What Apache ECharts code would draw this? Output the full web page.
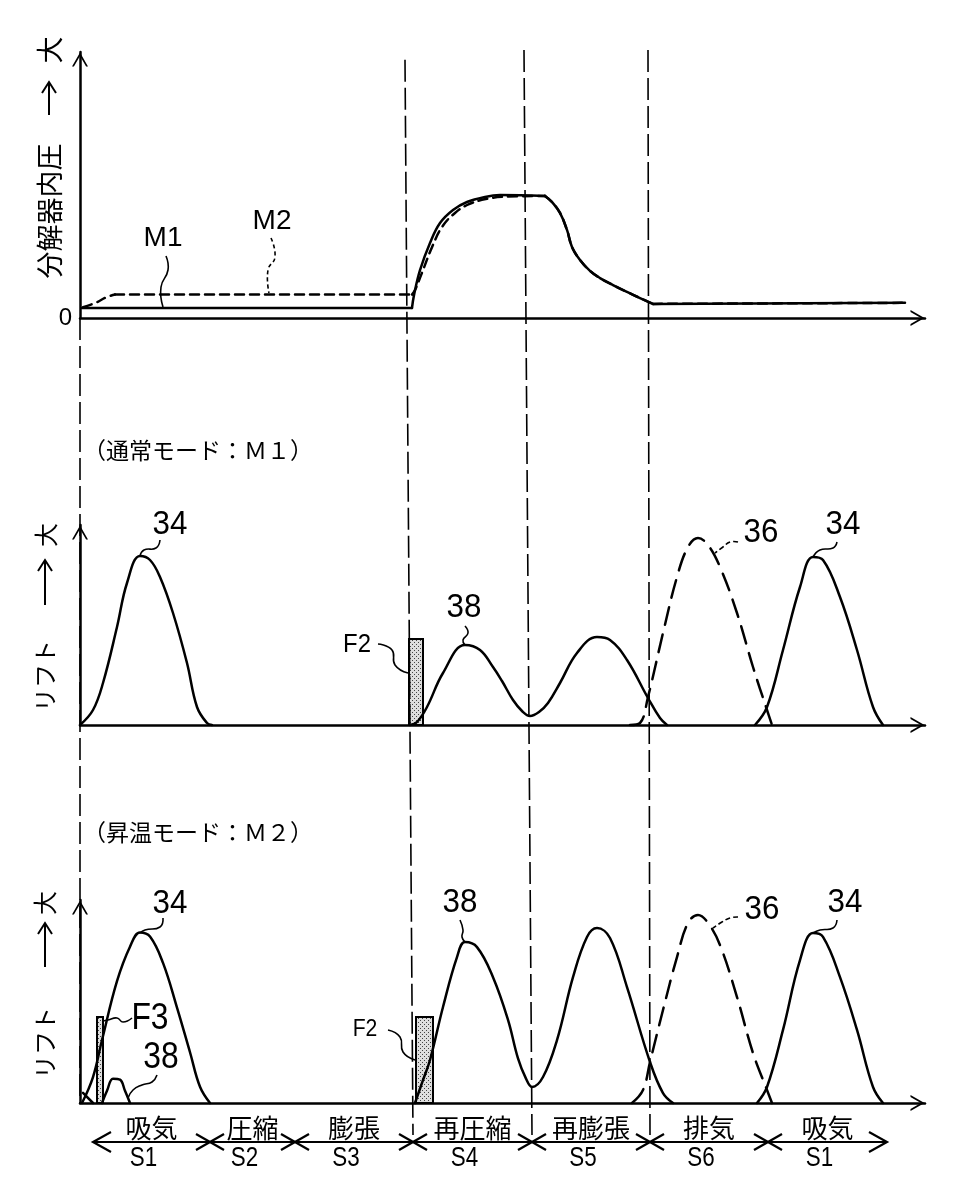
<!DOCTYPE html>
<html><head><meta charset="utf-8">
<script src="https://cdn.jsdelivr.net/npm/echarts@6/dist/echarts.min.js"></script>
<style>html,body{margin:0;padding:0;background:#fff}#c{width:970px;height:1200px}</style>
</head><body><div id="c"></div>
<script>
// ---------- data (x: stroke position units, y: % of axis height) ----------
const m1Pos = [2, 332, 334, 340, 350, 360, 373, 387, 405, 420, 465, 472, 480, 487, 492, 500, 510, 520, 533, 547, 560, 573, 825];
const m1Val = [3.8, 3.8, 8.6, 18.0, 28.2, 35.7, 40.6, 43.6, 45.5, 46.2, 45.9, 43.6, 39.5, 33.1, 26.7, 21.8, 17.7, 15.0, 12.4, 9.8, 7.5, 5.3, 5.7];
const m2Pos = [3, 15, 27, 35, 332, 335, 342, 352, 362, 375, 389, 407, 425, 465, 472, 480, 487, 492, 500, 510, 520, 533, 547, 560, 573, 825];
const m2Val = [4.1, 5.6, 7.9, 8.8, 8.8, 10.5, 17.0, 26.6, 34.2, 39.5, 42.8, 44.8, 45.6, 45.9, 43.6, 39.5, 33.1, 26.7, 21.8, 17.7, 15.0, 12.4, 9.8, 7.5, 5.3, 5.7];

const mid34aPos = [0, 13, 23, 37, 47, 60, 70, 80, 93, 107, 117, 127, 132];
const mid34aVal = [0, 7.5, 21, 49, 71, 84.5, 82.5, 74, 56, 31, 9, 1, 0];
const mid38Pos = [330, 337, 347, 363, 385, 400, 413, 422, 433, 442, 450, 459, 468, 480, 497, 517, 530, 547, 568, 580, 587];
const mid38Val = [0, 1.5, 9, 26, 40, 37.5, 29, 22, 12.5, 7, 4.5, 6.5, 11, 21, 36, 44, 42.5, 32.5, 13.5, 3.5, 0];
const mid36Pos = [550, 560, 568, 583, 597, 608, 618, 628, 640, 657, 673, 687, 692];
const mid36Val = [0, 1, 14, 46, 74, 89, 93.5, 90, 79, 56, 29, 7.5, 0];
const mid34bPos = [675, 687, 703, 720, 733, 743, 760, 777, 793, 803];
const mid34bVal = [0, 9, 37.5, 69, 84, 82.5, 64, 37.5, 9, 0];

const bot34aPos = [2, 13, 22, 37, 50, 60, 70, 83, 97, 110, 120, 130];
const bot34aVal = [0, 12.8, 31, 60, 77, 84, 82, 69, 47, 25, 8, 0];
const bot38sPos = [22, 27, 33, 40, 45, 50];
const bot38sVal = [0, 6, 12, 11.5, 6, 0];
const bot36tPos = [3, 13];
const bot36tVal = [5, 0];
const bot38Pos = [335, 343, 350, 363, 377, 385, 397, 413, 428, 438, 446, 452, 463, 477, 493, 507, 517, 530, 547, 570, 583, 593];
const bot38Val = [0, 11.3, 21.2, 47.3, 71.9, 79.3, 76.8, 62, 41, 22, 12, 7.9, 12.8, 31, 62, 81.8, 86.2, 81.3, 57.1, 20.2, 4.9, 0];
const bot36Pos = [552, 563, 570, 583, 597, 608, 618, 628, 640, 657, 673, 687, 692];
const bot36Val = [0, 6.4, 20.2, 45.8, 71.9, 88.7, 92.6, 88.7, 77.8, 52.2, 24.6, 6.4, 0];
const bot34bPos = [677, 687, 703, 720, 733, 743, 760, 777, 793, 803];
const bot34bVal = [0, 7.9, 36, 70.4, 83.7, 81.8, 62, 36, 7.9, 0];

// fuel injection bars: [start, end, height]
const midFuelStart = [329], midFuelEnd = [343], midFuelHeight = [43];
const botFuelStart = [17, 336], botFuelEnd = [23, 353], botFuelHeight = [42.4, 42.4];

// strokes
const strokeNames = ['吸気', '圧縮', '膨張', '再圧縮', '再膨張', '排気', '吸気'];
const strokeCodes = ['S1', 'S2', 'S3', 'S4', 'S5', 'S6', 'S1'];
const strokeEdges = [13, 130, 215, 333, 452, 570, 688, 807];
const boundaryTopPos = [0, 325, 444, 568];
const boundaryBottomPos = [0, 333, 452, 570];

// ---------- styling helpers ----------
const CJK = '"Noto Sans CJK JP", sans-serif';
const LATIN = '"Liberation Sans", Arial, sans-serif';
const CHEVRON = 'path://M0,14 L8,0 L16,14 L14.1,14 L8,3.6 L1.9,14 Z';

const pc = document.createElement('canvas');
pc.width = 4; pc.height = 4;
const pctx = pc.getContext('2d');
pctx.fillStyle = '#dedede'; pctx.fillRect(0, 0, 4, 4);
pctx.fillStyle = '#444'; pctx.fillRect(0, 0, 1, 1); pctx.fillRect(2, 2, 1, 1);
const stipple = { image: pc, repeat: 'repeat' };

function pairs(xs, ys) { return xs.map((x, i) => [x, ys[i]]); }
function curveSeries(xs, ys, gi, dash, corners) {
  const cuts = [0].concat(corners || [], [xs.length - 1]);
  const out = [];
  for (let k = 0; k < cuts.length - 1; k++) {
    const a = cuts[k], b = cuts[k + 1];
    if (b <= a) continue;
    out.push({
      type: 'line', xAxisIndex: gi, yAxisIndex: gi, clip: false,
      data: pairs(xs.slice(a, b + 1), ys.slice(a, b + 1)),
      smooth: (b - a) > 1 ? 0.4 : false, symbol: 'none', silent: true, z: 3,
      lineStyle: { color: '#000', width: 2.5, type: dash || 'solid', cap: 'round', join: 'round' }
    });
  }
  return out;
}
function barSeries(starts, ends, heights, gi) {
  return {
    type: 'custom', xAxisIndex: gi, yAxisIndex: gi, z: 1, silent: true,
    data: starts.map((s, i) => [s, ends[i], heights[i]]),
    renderItem: (params, api) => {
      const p0 = api.coord([api.value(0), api.value(2)]);
      const p1 = api.coord([api.value(1), 0]);
      return { type: 'rect', shape: { x: p0[0], y: p0[1], width: p1[0] - p0[0], height: p1[1] - p0[1] },
        style: { fill: stipple, stroke: '#000', lineWidth: 2 } };
    }
  };
}

function xAx(gi, show) {
  return { gridIndex: gi, type: 'value', min: 0, max: 845,
    axisLine: { show: show, symbol: ['none', CHEVRON], symbolSize: [16, 15], symbolOffset: [0, -7.5], lineStyle: { color: '#000', width: 2.5 } },
    axisTick: { show: false }, axisLabel: { show: false }, splitLine: { show: false } };
}
function yAx(gi, show, max) {
  return { gridIndex: gi, type: 'value', min: 0, max: max,
    axisLine: { show: show, onZero: false, symbol: ['none', CHEVRON], symbolSize: [16, 15], symbolOffset: [0, -7.5], lineStyle: { color: '#000', width: 2.5 } },
    axisTick: { show: false }, axisLabel: { show: false }, splitLine: { show: false } };
}

// ---------- annotations ----------
function txt(t, x, y, size, family, rot, sx) {
  return { type: 'text', x: x, y: y, rotation: rot || 0, scaleX: sx || 1, z: 20,
    style: { text: t, fontSize: size, fontFamily: family, fill: '#000',
      align: 'center', verticalAlign: 'middle', textAlign: 'center', textVerticalAlign: 'middle' } };
}
function txtL(t, x, y, size, family) {
  return { type: 'text', x: x, y: y, z: 20,
    style: { text: t, fontSize: size, fontFamily: family, fill: '#000',
      align: 'left', verticalAlign: 'middle', textAlign: 'left', textVerticalAlign: 'middle' } };
}
function leader(pts, dash) {
  return { type: 'polyline', z: 20, shape: { points: pts, smooth: 0.5 },
    style: { stroke: '#000', lineWidth: 1.6, fill: null, lineDash: dash || null } };
}
function vArrow(x, y0, y1) {
  return [
    { type: 'polyline', z: 20, shape: { points: [[x, y0], [x, y1]] }, style: { stroke: '#000', lineWidth: 2, fill: null } },
    { type: 'polyline', z: 20, shape: { points: [[x - 7, y1 + 11], [x, y1], [x + 7, y1 + 11]] }, style: { stroke: '#000', lineWidth: 2, fill: null } }
  ];
}
const R = Math.PI / 2;
const graphics = [
  // top chart
  txt('分解器内圧', 50, 211, 27, CJK, R), txt('大', 50, 50, 27, CJK, R),
  ...vArrow(49, 115, 82),
  txt('M1', 163, 238, 28, LATIN), txt('M2', 272, 221, 28, LATIN),
  leader([[166, 256], [168, 270], [161, 287], [163, 307]]),
  leader([[271, 238], [275, 257], [268, 270], [269, 293]], [4, 3]),
  // middle chart
  txtL('（通常モード：Ｍ１）', 83, 450, 23, CJK),
  txt('リフト', 45, 676, 24, CJK, R), txt('大', 46, 535, 24, CJK, R),
  ...vArrow(45, 605, 560),
  txt('34', 170, 525, 33, LATIN, 0, 0.95), leader([[160, 540], [156, 548], [144, 550], [140, 556]]),
  txt('F2', 357, 645, 26, LATIN, 0, 0.92), leader([[378, 644], [392, 650], [395, 665], [408, 673]]),
  txt('38', 464, 608, 33, LATIN, 0, 0.95), leader([[465, 626], [468, 633], [463, 640], [465, 645]]),
  txt('36', 761, 533, 33, LATIN, 0, 0.95), leader([[738, 542], [730, 542], [723, 547], [715, 553]], [5, 3]),
  txt('34', 843, 525, 33, LATIN, 0, 0.95), leader([[837, 542], [833, 548], [820, 550], [813, 557]]),
  // bottom chart
  txtL('（昇温モード：Ｍ２）', 83, 832, 23, CJK),
  txt('リフト', 45, 1043, 24, CJK, R), txt('大', 45, 903, 24, CJK, R),
  ...vArrow(45, 967, 923),
  txt('34', 170, 904, 33, LATIN, 0, 0.95), leader([[163, 918], [160, 927], [145, 930], [140, 933]]),
  txt('F3', 150, 1019, 37, LATIN, 0, 0.86), leader([[132, 1018], [123, 1022], [117, 1018], [108, 1020], [103, 1021]]),
  txt('38', 161, 1058, 37, LATIN, 0, 0.86), leader([[157, 1075], [152, 1082], [142, 1085], [133, 1090], [128, 1098]]),
  txt('F2', 365, 1030, 23, LATIN, 0, 0.92), leader([[388, 1030], [400, 1037], [403, 1052], [415, 1060]]),
  txt('38', 460, 903, 33, LATIN, 0, 0.95), leader([[460, 920], [463, 930], [462, 937], [465, 942]]),
  txt('36', 762, 910, 33, LATIN, 0, 0.95), leader([[738, 917], [730, 918], [722, 922], [713, 928]], [5, 3]),
  txt('34', 845, 903, 33, LATIN, 0, 0.95), leader([[837, 920], [833, 928], [820, 930], [813, 933]])
];

// ---------- series ----------
const series = [].concat(
  curveSeries(m2Pos, m2Val, 0, [9, 6], [3, 4, 13, 24]),
  curveSeries(m1Pos, m1Val, 0, 'solid', [1, 10, 21]),
  curveSeries(mid34aPos, mid34aVal, 1),
  curveSeries(mid38Pos, mid38Val, 1),
  curveSeries(mid36Pos, mid36Val, 1, [18, 10]),
  curveSeries(mid34bPos, mid34bVal, 1),
  curveSeries(bot34aPos, bot34aVal, 2),
  curveSeries(bot38sPos, bot38sVal, 2),
  curveSeries(bot36tPos, bot36tVal, 2),
  curveSeries(bot38Pos, bot38Val, 2),
  curveSeries(bot36Pos, bot36Val, 2, [18, 10]),
  curveSeries(bot34bPos, bot34bVal, 2),
  [barSeries(midFuelStart, midFuelEnd, midFuelHeight, 1),
   barSeries(botFuelStart, botFuelEnd, botFuelHeight, 2)]
);

// vertical stroke boundary lines across all charts (overlay grid 3, y: 0 bottom .. 1 top)
const lineSpans = [[0.753, 0.0295], [0.991, 0], [1, 0], [1, 0]];
series.push({
  type: 'custom', xAxisIndex: 3, yAxisIndex: 3, z: 5, silent: true, clip: false,
  data: boundaryTopPos.map((t, i) => [t, boundaryBottomPos[i]]),
  renderItem: (params, api) => {
    const sp = lineSpans[params.dataIndex];
    const a = api.coord([api.value(0), sp[0]]);
    const b = api.coord([api.value(1), sp[1]]);
    return { type: 'line', shape: { x1: a[0], y1: a[1], x2: b[0], y2: b[1] },
      style: { stroke: '#000', lineWidth: 1.6, lineDash: [22, 6] } };
  }
});

// stroke strip (grid 4)
series.push({
  type: 'custom', xAxisIndex: 4, yAxisIndex: 4, z: 5, silent: true, clip: false,
  data: strokeEdges.map((e, i) => [e, i]),
  renderItem: (params, api) => {
    const i = params.dataIndex, n = strokeEdges.length;
    const p = api.coord([api.value(0), 0.5]);
    const ch = [];
    const st = { stroke: '#000', lineWidth: 2.2, fill: null };
    if (i < n - 1) {
      const q = api.coord([strokeEdges[i + 1], 0.5]);
      ch.push({ type: 'line', shape: { x1: p[0], y1: p[1], x2: q[0], y2: q[1] }, style: st });
      const mid = api.coord([(strokeEdges[i] + strokeEdges[i + 1]) / 2, 0.72]);
      const mid2 = api.coord([(strokeEdges[i] + strokeEdges[i + 1]) / 2, 0.25]);
      ch.push({ type: 'text', x: mid[0], y: mid[1], style: { text: strokeNames[i], fontSize: 26, fontFamily: CJK, fill: '#000', align: 'center', verticalAlign: 'middle' } });
      ch.push({ type: 'text', x: mid2[0] - 8, y: mid2[1], scaleX: 0.8, style: { text: strokeCodes[i], fontSize: 28, fontFamily: LATIN, fill: '#000', align: 'center', verticalAlign: 'middle' } });
    }
    if (i === 0) {
      ch.push({ type: 'polyline', shape: { points: [[p[0] + 18, p[1] - 10], [p[0], p[1]], [p[0] + 18, p[1] + 10]] }, style: st });
    } else if (i === n - 1) {
      ch.push({ type: 'polyline', shape: { points: [[p[0] - 18, p[1] - 10], [p[0], p[1]], [p[0] - 18, p[1] + 10]] }, style: st });
    } else {
      ch.push({ type: 'line', shape: { x1: p[0] - 14, y1: p[1] - 8, x2: p[0] + 14, y2: p[1] + 8 }, style: st });
      ch.push({ type: 'line', shape: { x1: p[0] - 14, y1: p[1] + 8, x2: p[0] + 14, y2: p[1] - 8 }, style: st });
    }
    return { type: 'group', children: ch };
  }
});

const topY = yAx(0, true, 100);
topY.interval = 100;
topY.axisLabel = { show: true, formatter: v => (v === 0 ? '0' : ''), fontSize: 24, fontFamily: LATIN, color: '#000', margin: 8 };

const option = {
  animation: false,
  backgroundColor: '#fff',
  grid: [
    { left: 80, top: 52, width: 845, height: 266 },
    { left: 80, top: 525, width: 845, height: 200 },
    { left: 80, top: 900, width: 845, height: 203 },
    { left: 80, top: 50, width: 845, height: 1085 },
    { left: 80, top: 1110, width: 845, height: 64 }
  ],
  xAxis: [xAx(0, true), xAx(1, true), xAx(2, true), xAx(3, false), xAx(4, false)],
  yAxis: [topY, yAx(1, true, 100), yAx(2, true, 100), yAx(3, false, 1), yAx(4, false, 1)],
  series: series,
  graphic: { elements: graphics }
};
const chart = echarts.init(document.getElementById('c'), null, { renderer: 'canvas' });
chart.setOption(option);
</script></body></html>
